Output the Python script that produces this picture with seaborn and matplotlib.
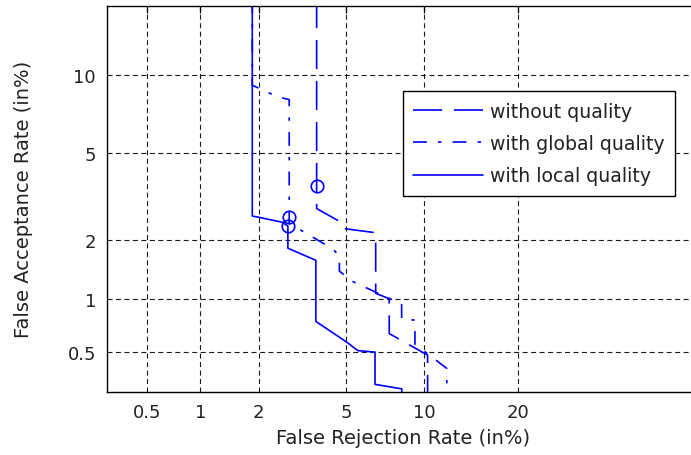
import math
import numpy as np
import matplotlib
matplotlib.use("Agg")
import matplotlib.pyplot as plt
import seaborn as sns

# ---------------- data (percent) ----------------
x_ticks = [0.5, 1, 2, 5, 10, 20]
x_tick_labels = ["0.5", "1", "2", "5", "10", "20"]
y_ticks = [0.5, 1, 2, 5, 10]
y_tick_labels = ["0.5", "1", "2", "5", "10"]

series_labels = ["without quality", "with global quality", "with local quality"]

frr_without = [3.73, 3.73, 3.73, 4.63, 4.79, 6.59, 6.59, 7.44, 7.44, 10.3, 10.3]
far_without = [30.0, 3.59, 2.84, 2.49, 2.29, 2.18, 1.07, 1.00, 0.64, 0.48, 0.20]

frr_global = [1.86, 1.86, 2.47, 2.80, 2.80, 2.80, 4.40, 4.68, 4.68, 5.29, 8.29, 8.29, 9.28, 9.28, 12.0, 12.0]
far_global = [30.0, 9.20, 8.34, 8.14, 2.59, 2.42, 1.81, 1.67, 1.40, 1.24, 0.935, 0.77, 0.763, 0.557, 0.40, 0.20]

frr_local = [1.86, 1.86, 1.98, 2.59, 2.76, 2.76, 3.70, 3.70, 5.04, 5.59, 6.55, 6.55, 8.30, 8.30]
far_local = [30.0, 2.62, 2.59, 2.45, 2.35, 1.83, 1.59, 0.75, 0.57, 0.51, 0.50, 0.32, 0.30, 0.20]

marker_frr = [3.73, 2.80, 2.76]
marker_far = [3.59, 2.59, 2.35]

# ---------------- probit (normal deviate) scale ----------------
_A = [-3.969683028665376e+01, 2.209460984245205e+02, -2.759285104469687e+02,
      1.383577518672690e+02, -3.066479806614716e+01, 2.506628277459239e+00]
_B = [-5.447609879822406e+01, 1.615858368580409e+02, -1.556989798598866e+02,
      6.680131188771972e+01, -1.328068155288572e+01]
_C = [-7.784894002430293e-03, -3.223964580411365e-01, -2.400758277161838e+00,
      -2.549732539343734e+00, 4.374664141464968e+00, 2.938163982698783e+00]
_D = [7.784695709041462e-03, 3.224671290700398e-01, 2.445134137142996e+00,
      3.754408692712200e+00]


def _ppf(p):
    p = np.clip(np.asarray(p, dtype=float), 1e-12, 1 - 1e-12)
    plow = 0.02425
    q = p - 0.5
    r = q * q
    central = (((((_A[0] * r + _A[1]) * r + _A[2]) * r + _A[3]) * r + _A[4]) * r + _A[5]) * q / \
              (((((_B[0] * r + _B[1]) * r + _B[2]) * r + _B[3]) * r + _B[4]) * r + 1)
    ql = np.sqrt(-2 * np.log(p))
    low = (((((_C[0] * ql + _C[1]) * ql + _C[2]) * ql + _C[3]) * ql + _C[4]) * ql + _C[5]) / \
          ((((_D[0] * ql + _D[1]) * ql + _D[2]) * ql + _D[3]) * ql + 1)
    qh = np.sqrt(-2 * np.log(1 - p))
    high = -(((((_C[0] * qh + _C[1]) * qh + _C[2]) * qh + _C[3]) * qh + _C[4]) * qh + _C[5]) / \
           ((((_D[0] * qh + _D[1]) * qh + _D[2]) * qh + _D[3]) * qh + 1)
    return np.where(p < plow, low, np.where(p > 1 - plow, high, central))


_erf = np.vectorize(math.erf, otypes=[float])


def fwd(x):
    return _ppf(np.asarray(x, dtype=float) / 100.0)


def inv(z):
    z = np.asarray(z, dtype=float)
    return 100.0 * 0.5 * (1.0 + _erf(z / math.sqrt(2.0)))


# ---------------- style ----------------
sns.set_style("white")
plt.rcParams["font.family"] = ["DejaVu Sans"]
plt.rcParams["lines.scale_dashes"] = False

W, H = 691, 456
fig = plt.figure(figsize=(W / 100, H / 100), dpi=100)
left, right, top, bottom = 107, 698.3, 7, 392.5
ax = fig.add_axes([left / W, (H - bottom) / H, (right - left) / W, (bottom - top) / H])

ax.set_xscale("function", functions=(fwd, inv))
ax.set_yscale("function", functions=(fwd, inv))

blue = "#0000ff"
lw = 1.2
styles = [(0, (21, 8.5)), (0, (10, 8, 2.5, 8)), "-"]
series = [(frr_without, far_without), (frr_global, far_global), (frr_local, far_local)]

handles = []
for (xs, ys), ls, lab in zip(series, styles, series_labels):
    sns.lineplot(x=xs, y=ys, ax=ax, sort=False, estimator=None, color=blue,
                 linewidth=lw, linestyle=ls, legend=False)
    line = ax.get_lines()[-1]
    line.set_label(lab)
    handles.append(line)

for mx, my in zip(marker_frr, marker_far):
    sns.lineplot(x=[mx], y=[my], ax=ax, estimator=None, sort=False, color=blue,
                 marker="o", markersize=9, markerfacecolor="none",
                 markeredgecolor=blue, markeredgewidth=1.2, linestyle="none",
                 legend=False)

ax.set_xlim(0.287, 50)
ax.set_ylim(0.289, 16.9)
ax.set_xticks(x_ticks, labels=x_tick_labels)
ax.set_yticks(y_ticks, labels=y_tick_labels)
ax.minorticks_off()

ax.grid(True, color="#1a1a1a", linestyle=(0, (3.6, 2.5)), linewidth=0.8)
ax.set_axisbelow(True)
ax.tick_params(direction="in", length=5, width=0.9, top=True, right=True,
               labelsize=13, colors="black", labelcolor="#222222", pad=8)
for s in ax.spines.values():
    s.set_color("black")
    s.set_linewidth(1.0)
    s.set_visible(True)

ax.set_xlabel("False Rejection Rate (in%)", fontsize=14, color="#222222", labelpad=5)
ax.set_ylabel("False Acceptance Rate (in%)", fontsize=14, color="#222222", labelpad=25)

leg = ax.legend(handles=handles, labels=series_labels, loc="upper left",
                bbox_to_anchor=(403 / W, 1 - 92.3 / H), bbox_transform=fig.transFigure,
                borderaxespad=0, fontsize=13.6, handlelength=3.7, handletextpad=0.35,
                labelspacing=0.7, borderpad=0.55, fancybox=False, framealpha=1,
                edgecolor="black")
leg.get_frame().set_linewidth(1.0)
for t in leg.get_texts():
    t.set_color("#222222")

fig.savefig("out.png", dpi=100)
